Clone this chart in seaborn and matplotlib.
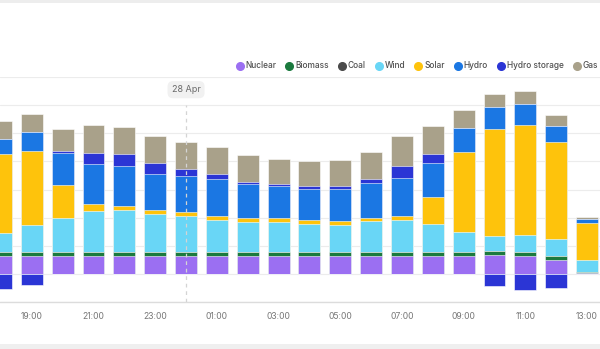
import numpy as np
import pandas as pd
import matplotlib
matplotlib.use("Agg")
import matplotlib.pyplot as plt
from matplotlib.lines import Line2D
from matplotlib.patches import Rectangle
import seaborn as sns

# ---- data (GW, hourly, 18:00 27 Apr -> 13:00 28 Apr) ----
hours = ["18:00", "19:00", "20:00", "21:00", "22:00", "23:00", "00:00", "01:00",
         "02:00", "03:00", "04:00", "05:00", "06:00", "07:00", "08:00", "09:00",
         "10:00", "11:00", "12:00", "13:00"]
tick_labels = ["19:00", "21:00", "23:00", "01:00", "03:00", "05:00", "07:00",
               "09:00", "11:00", "13:00"]
nuclear = [0.65, 0.65, 0.65, 0.65, 0.65, 0.65, 0.65, 0.65, 0.65, 0.65,
           0.65, 0.65, 0.65, 0.65, 0.65, 0.65, 0.67, 0.65, 0.51, 0.03]
biomass = [0.14, 0.14, 0.14, 0.14, 0.14, 0.14, 0.14, 0.14, 0.14, 0.14,
           0.14, 0.14, 0.14, 0.14, 0.14, 0.14, 0.15, 0.14, 0.14, 0.03]
coal = [0.0] * 20
wind = [0.68, 0.95, 1.19, 1.45, 1.47, 1.33, 1.26, 1.13, 1.06, 1.04,
        0.97, 0.96, 1.09, 1.14, 0.97, 0.71, 0.53, 0.59, 0.60, 0.45]
solar = [2.80, 2.63, 1.19, 0.25, 0.17, 0.15, 0.15, 0.15, 0.15, 0.14,
         0.15, 0.14, 0.11, 0.13, 0.98, 2.85, 3.81, 3.91, 3.43, 1.30]
hydro = [0.53, 0.66, 1.12, 1.42, 1.39, 1.27, 1.29, 1.29, 1.19, 1.15,
         1.10, 1.14, 1.23, 1.36, 1.22, 0.85, 0.76, 0.75, 0.57, 0.13]
hydro_storage = [0.00, 0.00, 0.09, 0.40, 0.44, 0.42, 0.23, 0.18, 0.09, 0.08,
                 0.12, 0.11, 0.14, 0.43, 0.30, 0.00, 0.00, 0.00, 0.00, 0.00]
gas = [0.64, 0.64, 0.78, 0.98, 0.98, 0.93, 0.96, 0.98, 0.94, 0.88,
       0.90, 0.90, 0.98, 1.06, 1.00, 0.63, 0.46, 0.47, 0.40, 0.09]
pumping = [-0.55, -0.38, 0, 0, 0, 0, 0, 0, 0, 0,
           0, 0, 0, 0, 0, 0, -0.44, -0.58, -0.50, 0]

fuels = ["Nuclear", "Biomass", "Coal", "Wind", "Solar", "Hydro", "Hydro storage", "Gas"]
series = [nuclear, biomass, coal, wind, solar, hydro, hydro_storage, gas]
colors = {"Nuclear": "#9b6ff2", "Biomass": "#1b7a3e", "Coal": "#4a4a4a",
          "Wind": "#69d6f6", "Solar": "#fec30c", "Hydro": "#1b77e3",
          "Hydro storage": "#2b35d5", "Gas": "#a9a18a"}

sns.set_theme(style="white")
plt.rcParams["font.family"] = ["Inter", "DejaVu Sans"]

fig = plt.figure(figsize=(6.0, 3.49), dpi=100)
ax = fig.add_axes([0.0, (349 - 302) / 349, 1.0, (302 - 77) / 349])

df = pd.DataFrame({"hour": hours})
cum = np.zeros(len(hours))
cums = []
for name, vals in zip(fuels, series):
    cum = cum + np.array(vals)
    cums.append(cum.copy())

# draw cumulative totals from top layer down so each layer shows as a segment
for name, c in reversed(list(zip(fuels, cums))):
    d = df.copy()
    d["value"] = c
    sns.barplot(data=d, x="hour", y="value", order=hours, color=colors[name],
                width=0.71, saturation=1, edgecolor="white", linewidth=0.4,
                ax=ax, zorder=3)

d = df.copy()
d["value"] = pumping
sns.barplot(data=d, x="hour", y="value", order=hours, color=colors["Hydro storage"],
            width=0.71, saturation=1, edgecolor="white", linewidth=0.4, ax=ax, zorder=3)

ax.set_xlim(-0.032, 19.42)
ax.set_ylim(-1, 7)
ax.set_yticks(np.arange(-1, 8, 1))
ax.set_yticklabels([])
ax.grid(axis="y", color="#ececec", linewidth=0.8, zorder=0)
ax.grid(axis="x", visible=False)
for s in ["top", "left", "right"]:
    ax.spines[s].set_visible(False)
ax.spines["bottom"].set_color("#dcdcdc")
ax.spines["bottom"].set_linewidth(1.0)
ax.set_xlabel("")
ax.set_ylabel("")

tick_pos = [hours.index(t) for t in tick_labels]
ax.set_xticks(tick_pos)
ax.set_xticklabels(tick_labels, fontsize=6.2, color="#777777")
ax.tick_params(axis="x", length=0, pad=7)
ax.tick_params(axis="y", length=0)

# date marker at midnight
mid = hours.index("00:00")
ax.vlines(mid, -1, 6.0, colors="#d4d4d4", linestyles=(0, (3, 3)), linewidth=0.9, zorder=5)
ax.text(mid, 6.55, "28 Apr", ha="center", va="center", fontsize=6.5, color="#6a6a6a",
        bbox=dict(boxstyle="round,pad=0.45,rounding_size=0.6", fc="#f1f1f1", ec="none"),
        zorder=6)

# legend
handles = [Line2D([0], [0], marker="o", linestyle="", markersize=5.5,
                  markerfacecolor=colors[f], markeredgecolor=colors[f]) for f in fuels]
leg = fig.legend(handles, fuels, loc="center left", bbox_to_anchor=(237 / 600, 1 - 66 / 349),
                 ncol=8, frameon=False, fontsize=6, handlelength=0.6, handletextpad=0.4,
                 columnspacing=1.27, borderaxespad=0, borderpad=0)
for t in leg.get_texts():
    t.set_color("#505050")
    t.set_fontweight("medium")

# page bands
fig.add_artist(Rectangle((0, 1 - 3 / 349), 1, 3 / 349, transform=fig.transFigure,
                         facecolor="#ededed", edgecolor="none"))
fig.add_artist(Rectangle((0, 0), 1, 5 / 349, transform=fig.transFigure,
                         facecolor="#efefef", edgecolor="none"))

fig.savefig("out.png", dpi=100)
